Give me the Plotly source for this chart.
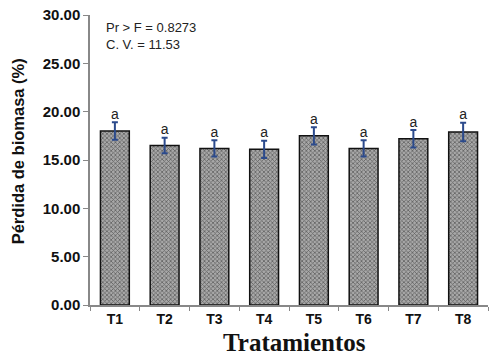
import plotly.graph_objects as go

categories = ["T1", "T2", "T3", "T4", "T5", "T6", "T7", "T8"]
values = [18.0, 16.5, 16.2, 16.1, 17.5, 16.2, 17.2, 17.9]
errors = [0.9, 0.8, 0.85, 0.9, 0.9, 0.85, 0.9, 0.95]
letters = ["a"] * 8
y_ticks = [0, 5, 10, 15, 20, 25, 30]
y_ticklabels = ["0.00", "5.00", "10.00", "15.00", "20.00", "25.00", "30.00"]
stats_text = ["Pr > F = 0.8273", "C. V. = 11.53"]
x_title = "Tratamientos"
y_title = "Pérdida de biomasa (%)"

fig = go.Figure()
fig.add_trace(go.Bar(
    x=categories, y=values, width=0.58,
    marker=dict(color="#9a9a9a", line=dict(color="#111111", width=1.5),
                pattern=dict(shape="x", size=3, solidity=0.45, fgcolor="#1a1a1a", bgcolor="#a8a8a8")),
    error_y=dict(type="data", array=errors, visible=True, color="#2b4a8c", thickness=2, width=3),
    showlegend=False,
))
fig.add_trace(go.Scatter(
    x=categories, y=[v + e for v, e in zip(values, errors)], mode="text", text=letters,
    textposition="top center", textfont=dict(family="Liberation Sans, Arial", size=14, color="#222"),
    showlegend=False, cliponaxis=False,
))

fig.update_layout(
    width=500, height=364, margin=dict(l=90, r=12, t=15, b=59),
    plot_bgcolor="white", paper_bgcolor="white",
    xaxis=dict(showline=True, linecolor="#888888", linewidth=1.5, ticks="outside", tickson="boundaries",
               ticklen=4, tickcolor="#888888", automargin=False,
               tickvals=categories, ticktext=["<b>%s</b>" % c for c in categories],
               tickfont=dict(family="Liberation Sans, Arial", size=14, color="#111")),
    yaxis=dict(range=[0, 30], tickvals=y_ticks, ticktext=["<b>%s</b>" % t for t in y_ticklabels],
               showline=True, linecolor="#888888", linewidth=1.5, ticks="outside", ticklen=5, tickcolor="#888888",
               showgrid=False, zeroline=False, automargin=False, ticklabeloverflow="allow",
               tickfont=dict(family="Liberation Sans, Arial", size=15, color="#111")),
)

fig.add_annotation(xref="paper", yref="paper", x=0.035, y=0.99, xanchor="left", yanchor="top",
                   text=stats_text[0] + "<br>" + stats_text[1], showarrow=False, align="left",
                   font=dict(family="Liberation Sans, Arial", size=13, color="#222"))
fig.add_annotation(xref="paper", yref="paper", x=0.515, y=-0.131, xanchor="center", yanchor="middle",
                   text="<b>%s</b>" % x_title, showarrow=False,
                   font=dict(family="Liberation Serif, Times New Roman", size=25, color="#111"))
fig.add_annotation(xref="paper", yref="paper", x=-0.18, y=0.531, xanchor="center", yanchor="middle",
                   text="<b>%s</b>" % y_title, showarrow=False, textangle=-90,
                   font=dict(family="Liberation Sans, Arial", size=16.5, color="#111"))

# remove the page's default body margin so the 500x364 figure fills the window exactly
fig.write_html("out.html", config={"displayModeBar": False},
               post_script="document.body.style.margin='0';")
